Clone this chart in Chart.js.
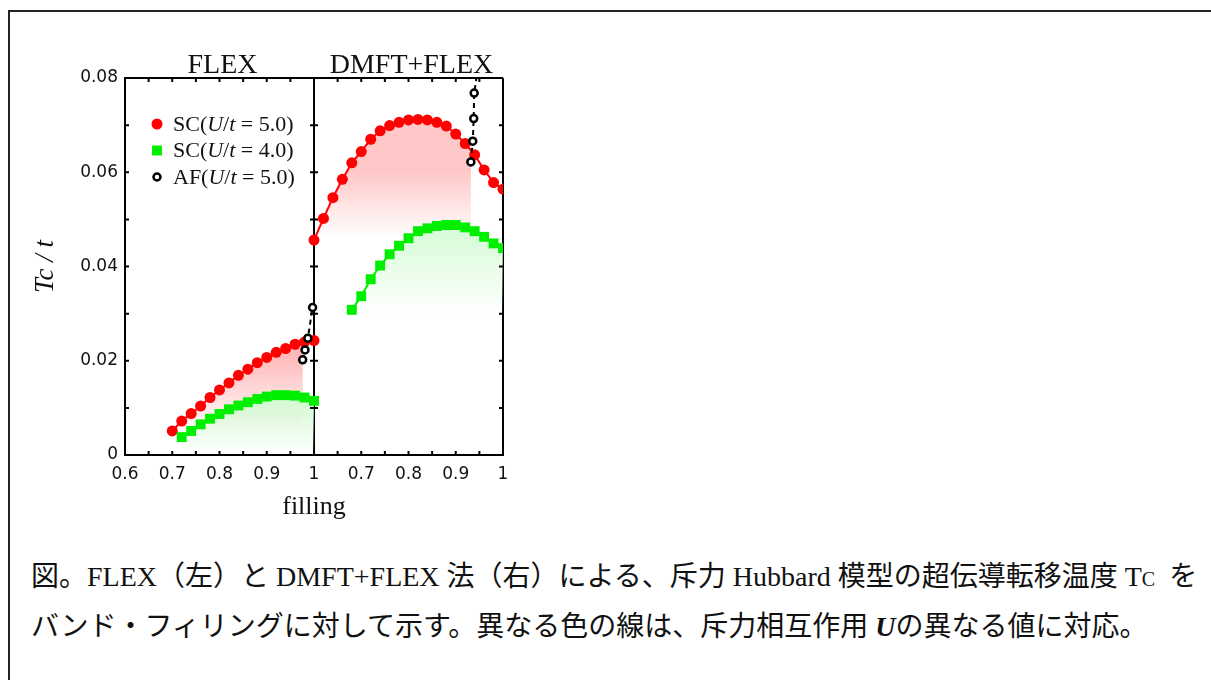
<!DOCTYPE html>
<html>
<head>
<meta charset="utf-8">
<script src="https://cdn.jsdelivr.net/npm/chart.js@4.4.0/dist/chart.umd.min.js"></script>
<style>
html,body{margin:0;padding:0;background:#fff;width:1211px;height:680px;overflow:hidden;}
#frame{position:absolute;left:8px;top:10px;width:1400px;height:900px;border:2px solid #222;box-sizing:border-box;}
#wrap{position:absolute;left:0;top:0;width:560px;height:540px;}
#caption{position:absolute;left:31px;top:552px;font-family:"Liberation Serif","Noto Sans CJK JP";font-size:28px;line-height:50px;white-space:nowrap;color:#111;}
.sc{font-variant:small-caps;}
</style>
</head>
<body>
<div id="frame"></div>
<div id="wrap"><canvas id="tcChart" width="560" height="540"></canvas></div>
<div id="caption">図。FLEX（左）と DMFT+FLEX 法（右）による、斥力 Hubbard 模型の超伝導転移温度 T<span class="sc">c</span>&nbsp; を<br>バンド・フィリングに対して示す。異なる色の線は、斥力相互作用 <b><i>U</i></b>の異なる値に対応。</div>
<script>
// FLEX panel (left)
const fillFlexU5 = [0.70,0.72,0.74,0.76,0.78,0.80,0.82,0.84,0.86,0.88,0.90,0.92,0.94,0.96,0.98,1.00];
const tcFlexU5 = [0.0051,0.0072,0.0088,0.0104,0.0122,0.0138,0.0153,0.0169,0.0182,0.0196,0.0207,0.0218,0.0226,0.0235,0.0240,0.0243];
const fillFlexU4 = [0.72,0.74,0.76,0.78,0.80,0.82,0.84,0.86,0.88,0.90,0.92,0.94,0.96,0.98,1.00];
const tcFlexU4 = [0.0038,0.0051,0.0065,0.0077,0.0087,0.0097,0.0105,0.0112,0.0119,0.0124,0.0127,0.0127,0.0126,0.0122,0.0115];
const fillFlexAF = [0.976,0.981,0.987,0.997];
const tcFlexAF = [0.0202,0.0223,0.0248,0.0313];

// DMFT+FLEX panel (right)
const fillDmftU5 = [0.60,0.62,0.64,0.66,0.68,0.70,0.72,0.74,0.76,0.78,0.80,0.82,0.84,0.86,0.88,0.90,0.92,0.94,0.96,0.98,1.00];
const tcDmftU5 = [0.0456,0.0502,0.0546,0.0585,0.0620,0.0644,0.0670,0.0688,0.0699,0.0706,0.0711,0.0712,0.0711,0.0706,0.0698,0.0681,0.0661,0.0637,0.0605,0.0578,0.0564];
const fillDmftU4 = [0.68,0.70,0.72,0.74,0.76,0.78,0.80,0.82,0.84,0.86,0.88,0.90,0.92,0.94,0.96,0.98,1.00];
const tcDmftU4 = [0.0308,0.0337,0.0373,0.0402,0.0426,0.0444,0.0460,0.0475,0.0481,0.0486,0.0488,0.0488,0.0483,0.0475,0.0463,0.0449,0.0439];
const fillDmftAF = [0.932,0.936,0.938,0.939,0.946];
const tcDmftAF = [0.0622,0.0666,0.0714,0.0768,0.0815];

// axes
const xTickLabels = ['0.6','0.7','0.8','0.9','1','0.7','0.8','0.9','1'];
const yTickLabels = ['0','','0.02','','0.04','','0.06','','0.08'];
const panelTitles = ['FLEX','DMFT+FLEX'];
const legendRows = [
  {parts:['SC(',['U'],'/',['t'],' = 5.0)'], style:'circle'},
  {parts:['SC(',['U'],'/',['t'],' = 4.0)'], style:'rect'},
  {parts:['AF(',['U'],'/',['t'],' = 5.0)'], style:'af'}
];

// right panel drawn on the same x scale, shifted by this much
const dmftShift = 0.4;

const RED = '#ff0000';
const GREEN = '#00ee00';

function pts(xs, ys, shift){
  return xs.map((f,i)=>({x:f+shift, y:ys[i]}));
}

// vertical fade under a curve, cut off left/right at given filling values
function fadeFill(rgb, topVal, bottomVal, fromX, toX){
  return (context)=>{
    const chart = context.chart;
    if(!chart.chartArea) return 'transparent';
    const {x, y} = chart.scales;
    const c = document.createElement('canvas');
    c.width = chart.width;
    c.height = chart.height;
    const g = c.getContext('2d');
    const grad = g.createLinearGradient(0, y.getPixelForValue(topVal), 0, y.getPixelForValue(bottomVal));
    grad.addColorStop(0, 'rgba('+rgb+',1)');
    grad.addColorStop(1, 'rgba('+rgb+',0)');
    g.fillStyle = grad;
    const x0 = x.getPixelForValue(fromX);
    const x1 = x.getPixelForValue(toX);
    g.fillRect(x0, 0, x1-x0, c.height);
    return chart.ctx.createPattern(c, 'no-repeat');
  };
}

function fillSet(data, bg, order){
  return {data:data, fill:'origin', borderWidth:0, pointRadius:0, backgroundColor:bg, order:order};
}

function scSet(data, color, style, radius){
  return {
    data:data, fill:false, borderColor:color, borderWidth:2,
    pointStyle:style, pointRadius:radius, pointBackgroundColor:color,
    pointBorderWidth:0, order:style==='rect'?2:3
  };
}

function afSet(data, radius){
  return {
    data:data, fill:false, borderColor:'#000', borderWidth:2, borderDash:[5,4],
    pointStyle:'circle', pointRadius:radius, pointBackgroundColor:'#fff',
    pointBorderColor:'#000', pointBorderWidth:2.5, order:1
  };
}

const near = (a,b)=>Math.abs(a-b)<1e-6;

// inward ticks on every edge and the divider
const frameTicks = {
  id:'frameTicks',
  afterDatasetsDraw(chart){
    const {ctx, chartArea:a, scales:{x, y}} = chart;
    const L = 4;
    const mid = x.getPixelForValue(1.0);
    ctx.save();
    ctx.strokeStyle = '#000';
    ctx.lineWidth = 2;
    ctx.beginPath();
    y.ticks.forEach(t=>{
      if(near(t.value,0) || near(t.value,0.08)) return;
      const py = y.getPixelForValue(t.value);
      ctx.moveTo(a.left, py); ctx.lineTo(a.left+L, py);
      ctx.moveTo(mid-L, py); ctx.lineTo(mid+L, py);
      ctx.moveTo(a.right-L, py); ctx.lineTo(a.right, py);
    });
    x.ticks.forEach(t=>{
      if(near(t.value,0.6) || near(t.value,1.0) || near(t.value,1.4)) return;
      const px = x.getPixelForValue(t.value);
      ctx.moveTo(px, a.bottom); ctx.lineTo(px, a.bottom-L);
      ctx.moveTo(px, a.top); ctx.lineTo(px, a.top+L);
    });
    ctx.stroke();
    ctx.restore();
  }
};

// panel titles and the legend
const panelText = {
  id:'panelText',
  afterDraw(chart){
    const {ctx, chartArea:a, scales:{x}} = chart;
    ctx.save();
    ctx.fillStyle = '#111';
    ctx.font = '28px "Liberation Serif"';
    ctx.textAlign = 'center';
    ctx.textBaseline = 'alphabetic';
    ctx.fillText(panelTitles[0], x.getPixelForValue(0.8)+3, a.top-5);
    ctx.fillText(panelTitles[1], x.getPixelForValue(1.2)+3, a.top-5);

    ctx.textAlign = 'left';
    ctx.textBaseline = 'middle';
    legendRows.forEach((row,i)=>{
      const cy = a.top+46+i*26.5;
      const mx = a.left+32;
      if(row.style==='circle'){
        ctx.fillStyle = RED;
        Chart.helpers.drawPoint(ctx, {pointStyle:'circle', radius:5.5, borderWidth:0, rotation:0}, mx, cy);
      }else if(row.style==='rect'){
        ctx.fillStyle = GREEN;
        Chart.helpers.drawPoint(ctx, {pointStyle:'rect', radius:7, borderWidth:0, rotation:0}, mx, cy);
      }else{
        ctx.fillStyle = '#fff';
        ctx.strokeStyle = '#000';
        ctx.lineWidth = 2.5;
        Chart.helpers.drawPoint(ctx, {pointStyle:'circle', radius:3.5, borderWidth:2.5, rotation:0}, mx, cy);
      }
      let tx = a.left+48;
      ctx.fillStyle = '#111';
      row.parts.forEach(p=>{
        const italic = Array.isArray(p);
        const s = italic ? p[0] : p;
        ctx.font = (italic?'italic ':'')+'22px "Liberation Serif"';
        ctx.fillText(s, tx, cy+1);
        tx += ctx.measureText(s).width;
      });
    });
    ctx.restore();
  }
};

new Chart(document.getElementById('tcChart'), {
  type:'line',
  data:{
    datasets:[
      fillSet(pts(fillFlexU5, tcFlexU5, 0), fadeFill('255,185,185', 0.021, 0.005, 0.6, fillFlexAF[0]), 6),
      fillSet(pts(fillDmftU5, tcDmftU5, dmftShift), fadeFill('255,200,200', 0.060, 0.046, 1.0, fillDmftAF[0]+dmftShift), 6),
      fillSet(pts(fillFlexU4, tcFlexU4, 0), fadeFill('212,250,212', 0.0115, 0.0, 0.6, 1.4), 5),
      fillSet(pts(fillDmftU4, tcDmftU4, dmftShift), fadeFill('218,252,218', 0.046, 0.030, 0.6, 1.4), 5),
      scSet(pts(fillFlexU5, tcFlexU5, 0), RED, 'circle', 5.5),
      scSet(pts(fillDmftU5, tcDmftU5, dmftShift), RED, 'circle', 5.5),
      scSet(pts(fillFlexU4, tcFlexU4, 0), GREEN, 'rect', 7),
      scSet(pts(fillDmftU4, tcDmftU4, dmftShift), GREEN, 'rect', 7),
      afSet(pts(fillFlexAF, tcFlexAF, 0), 3.5),
      afSet(pts(fillDmftAF, tcDmftAF, dmftShift), [3.5,3.5,3.5,3.5,0])
    ]
  },
  options:{
    responsive:false,
    animation:false,
    layout:{padding:{left:0, top:78, right:57, bottom:17}},
    plugins:{legend:{display:false}, tooltip:{enabled:false}},
    scales:{
      x:{
        type:'linear', min:0.6, max:1.4,
        afterFit:(s)=>{ s.height = 68; },
        ticks:{
          stepSize:0.05, autoSkip:false, maxRotation:0, padding:9, color:'#111',
          font:{family:'DejaVu Sans', size:17},
          callback:(v)=>{
            const k = Math.round((v-0.6)*20);
            return k%2 ? '' : xTickLabels[k/2];
          }
        },
        grid:{
          drawTicks:false, lineWidth:2,
          color:(c)=> (c.tick && (near(c.tick.value,1.0) || near(c.tick.value,1.4))) ? '#000' : 'rgba(0,0,0,0)'
        },
        border:{display:true, color:'#000', width:2},
        title:{display:true, text:'filling', color:'#111', font:{family:'Liberation Serif', size:26}, padding:{top:0, bottom:0}}
      },
      y:{
        min:0, max:0.08,
        afterFit:(s)=>{ s.width = 125; },
        ticks:{
          stepSize:0.01, padding:7, color:'#111',
          font:{family:'DejaVu Sans', size:17},
          callback:(v)=> yTickLabels[Math.round(v*100)]
        },
        grid:{
          drawTicks:false, lineWidth:2,
          color:(c)=> (c.tick && near(c.tick.value,0.08)) ? '#000' : 'rgba(0,0,0,0)'
        },
        border:{display:true, color:'#000', width:2},
        title:{display:true, text:'Tc / t', color:'#111', font:{family:'Liberation Serif', size:27, style:'italic'}, padding:{top:30}}
      }
    }
  },
  plugins:[frameTicks, panelText]
});
</script>
</body>
</html>
